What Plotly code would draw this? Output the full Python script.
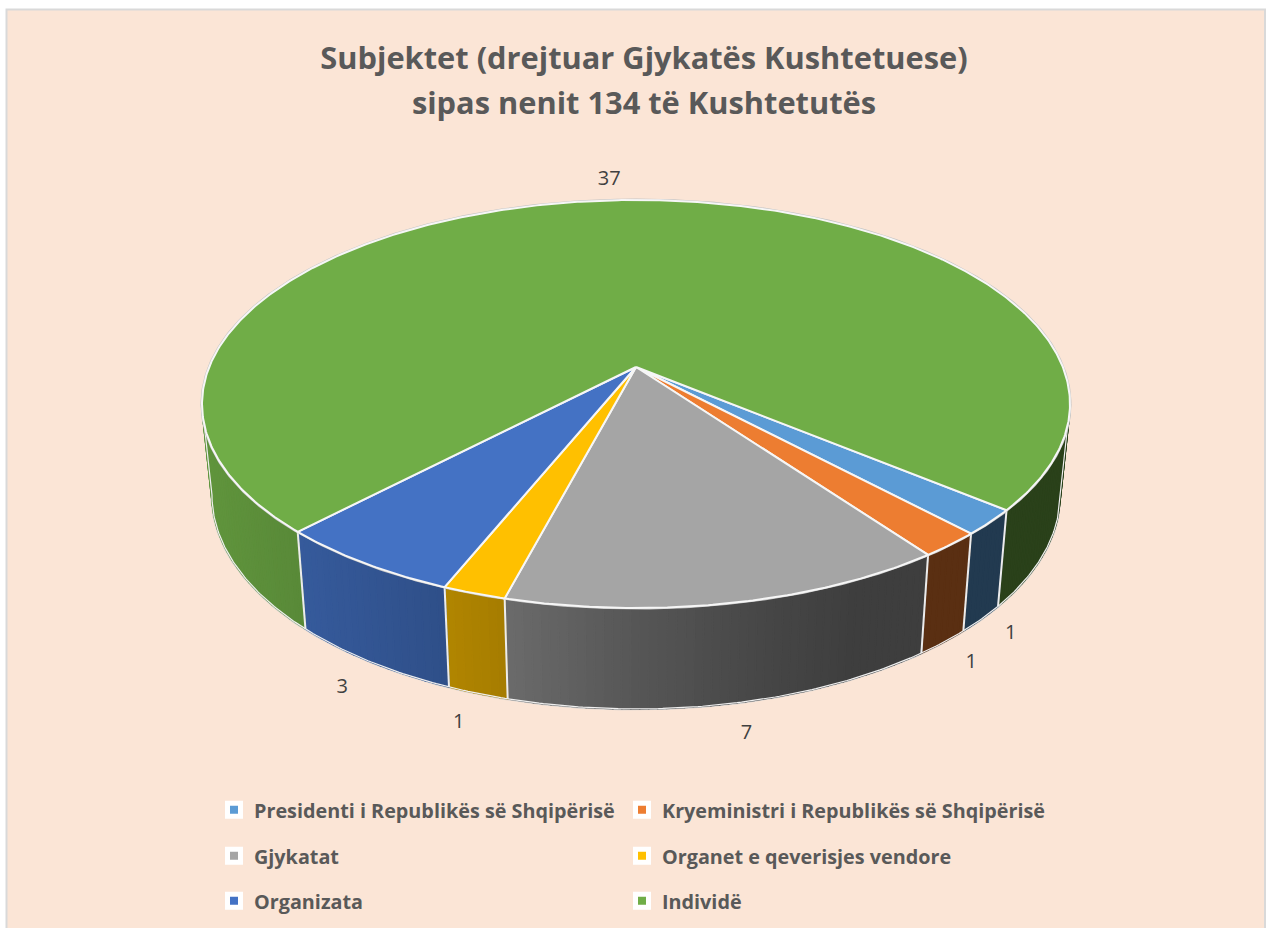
import numpy as np
import plotly.graph_objects as go

# ---------- data ----------
CATEGORIES = [
    "Presidenti i Republikës së Shqipërisë",
    "Kryeministri i Republikës së Shqipërisë",
    "Gjykatat",
    "Organet e qeverisjes vendore",
    "Organizata",
    "Individë",
]
VALUES = [1, 1, 7, 1, 3, 37]
COLORS = ["#5B9BD5", "#ED7D31", "#A5A5A5", "#FFC000", "#4472C4", "#70AD47"]
TITLE_LINES = ["Subjektet (drejtuar Gjykatës Kushtetuese)", "sipas nenit 134 të Kushtetutës"]

# ---------- 3-D projection and style ----------
W, H = 1266, 928
FIRST_ANGLE = 129.9
CX, KP = 636.0, 0.1814
TOP_A, TOP_B, TOP_Y = 426.8, 197.3, 367.0
BOT_A, BOT_B, BOT_Y = 417.0, 207.0, 456.0
WALL_RIGHT, WALL_LEFT = 100.45, 259.55      # where the wall meets the silhouette
SHADE_X = [200, 300, 445, 507, 640, 780, 850, 1100]
SHADE_F = [0.87, 0.80, 0.70, 0.65, 0.52, 0.42, 0.38, 0.38]
LABEL_OFFSET = [(29, 15), (28, 21), (18, 30), (-19, 30), (-28, 26), (-6, -20)]
LEGEND_COLUMNS_X = [214, 622]
LEGEND_ROWS_Y = [810, 856, 901]
TEXT = "#595959"
FONT = "Open Sans"


def project(theta, a, b, y0):
    t = np.radians(theta)
    w = 1 + KP * np.cos(t)
    return CX + a * np.sin(t) / w, y0 - b * np.cos(t) / w


def top(theta):
    return project(theta, TOP_A, TOP_B, TOP_Y)


def bottom(theta):
    return project(theta, BOT_A, BOT_B, BOT_Y)


def arc(a0, a1, step=0.5):
    n = max(2, int(abs(a1 - a0) / step) + 1)
    return np.linspace(a0, a1, n)


def hex_rgb(c):
    return np.array([int(c[i:i + 2], 16) for i in (1, 3, 5)])


edges = FIRST_ANGLE + np.concatenate([[0], np.cumsum(VALUES)]) * 360.0 / sum(VALUES)
fig = go.Figure()


def add_poly(xs, ys, fill=None, line=None, width=1.0, closed=True):
    fig.add_trace(go.Scatter(
        x=list(xs), y=list(ys), mode="lines",
        fill="toself" if closed else None,
        fillcolor=fill, line=dict(color=line or "rgba(0,0,0,0)", width=width),
        hoverinfo="skip", showlegend=False,
    ))


def add_wall(a_from, a_to, color):
    rgb = hex_rgb(color)
    cuts = arc(a_from, a_to, 1.0)
    for a0, a1 in zip(cuts[:-1], cuts[1:]):
        seg = arc(a0, a1, 0.25)
        tx, ty = top(seg)
        ux, uy = bottom(seg)
        f = float(np.interp(np.mean(ux), SHADE_X, SHADE_F))
        col = "rgb(%d,%d,%d)" % tuple(rgb * f)
        add_poly(np.r_[tx, ux[::-1], tx[0]], np.r_[ty, uy[::-1], ty[0]], fill=col, line=col, width=1.6)


# silhouette of the wall: bottom arc plus the two tangent sides
a = arc(WALL_RIGHT, WALL_LEFT)
bx, by = bottom(a)
tr, tl = top(WALL_RIGHT), top(WALL_LEFT)
sil_x = np.r_[tr[0], bx, tl[0]]
sil_y = np.r_[tr[1], by, tl[1]]
add_poly(sil_x, sil_y, line="#cfcfcf", width=3, closed=False)

# side wall, drawn as thin shaded strips
add_wall(WALL_RIGHT, edges[0], COLORS[5])    # green wraps round to the right side
for i, color in enumerate(COLORS):
    add_wall(edges[i], min(edges[i + 1], WALL_LEFT), color)

# white seams on the wall
for e in edges[:-1]:
    tx, ty = top(e)
    ux, uy = bottom(e)
    add_poly([tx, ux], [ty, uy], line="#ECECEC", width=2, closed=False)
add_poly(sil_x, sil_y, line="#EFEFEF", width=1.2, closed=False)

# top-face silhouette
a = arc(0, 360)
tx, ty = top(a)
add_poly(tx, ty, line="#c4c4c4", width=3, closed=False)

# top faces
for i, color in enumerate(COLORS):
    seg = arc(edges[i], edges[i + 1])
    tx, ty = top(seg)
    add_poly(np.r_[CX, tx, CX], np.r_[TOP_Y, ty, TOP_Y], fill=color, line="#F6F6F6", width=2)

# data labels
lx, ly = [], []
for i in range(len(VALUES)):
    mid = (edges[i] + edges[i + 1]) / 2
    px, py = top(mid) if i == 5 else bottom(mid)
    lx.append(px + LABEL_OFFSET[i][0])
    ly.append(py + LABEL_OFFSET[i][1])
fig.add_trace(go.Scatter(
    x=lx, y=ly, mode="text", text=[str(v) for v in VALUES],
    textposition="middle center",
    textfont=dict(family=FONT, size=20, color="#404040"),
    hoverinfo="skip", showlegend=False,
))

# legend entries: one legend per entry so that each sits on the 2-column grid
legends = {}
for i, (name, color) in enumerate(zip(CATEGORIES, COLORS)):
    key = "legend" if i == 0 else "legend%d" % (i + 1)
    fig.add_trace(go.Scatter(
        x=[None], y=[None], mode="markers", name=name,
        marker=dict(symbol="square", size=13, color=color, line=dict(color="white", width=5)),
        legend=key,
    ))
    legends[key] = dict(
        orientation="h", xanchor="left", yanchor="middle",
        x=LEGEND_COLUMNS_X[i % 2] / W, y=1 - LEGEND_ROWS_Y[i // 2] / H,
        bgcolor="rgba(0,0,0,0)", itemclick=False, itemdoubleclick=False,
        font=dict(family=FONT, size=19.8, color=TEXT, weight=700),
    )

title_text = "<br>".join('<span style="font-size:30.8px">%s</span>' % s for s in TITLE_LINES)

fig.update_layout(
    width=W, height=H,
    margin=dict(l=0, r=0, t=0, b=0),
    paper_bgcolor="white", plot_bgcolor="white",
    showlegend=True,
    xaxis=dict(range=[0, W], visible=False, fixedrange=True),
    yaxis=dict(range=[H, 0], visible=False, fixedrange=True),
    title=dict(
        text=title_text, x=644 / W, xanchor="center", y=1 - 69 / H, yanchor="middle",
        font=dict(family=FONT, size=34.6, color=TEXT, weight=700),
    ),
    shapes=[dict(
        type="rect", xref="x", yref="y", x0=6.5, y0=9.5, x1=1265, y1=H + 10,
        fillcolor="#FBE5D6", line=dict(color="#D9D9D9", width=2), layer="below",
    )],
    **legends,
)

fig.write_html("out.html", config=dict(displayModeBar=False),
               post_script="document.body.style.margin='0';")
